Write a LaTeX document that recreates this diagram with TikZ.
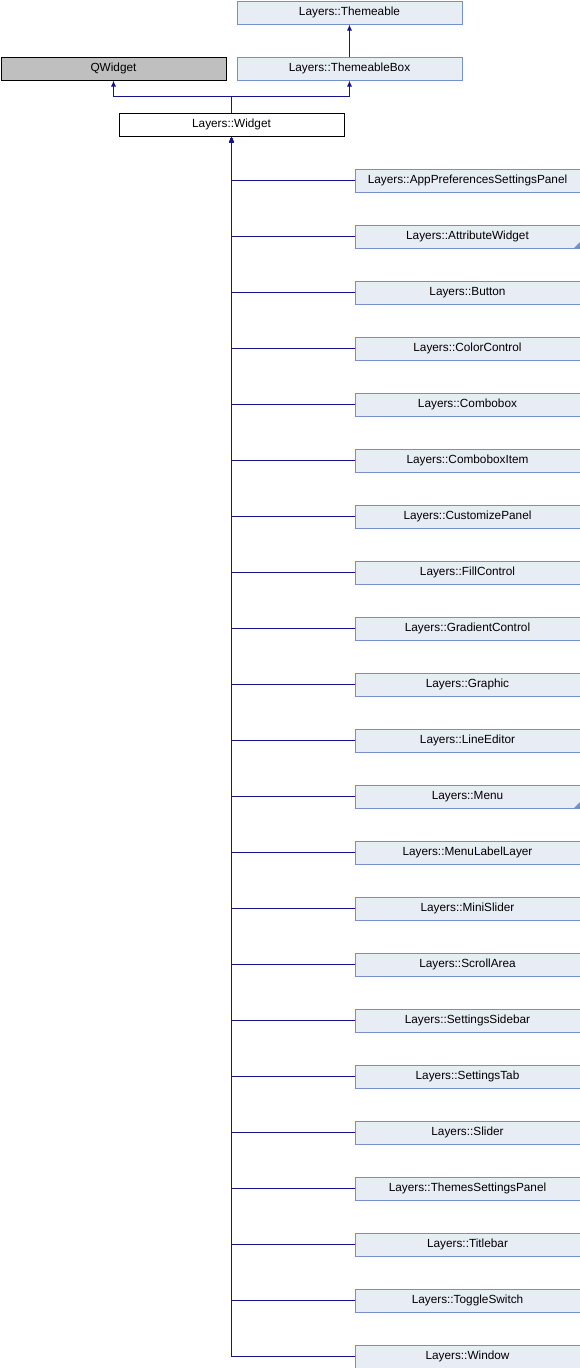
\documentclass[tikz,border=0pt]{standalone}
\usepackage{fontspec}
\setmainfont{Liberation Sans}
\usetikzlibrary{arrows.meta}
\definecolor{boxfill}{RGB}{232,236,245}
\definecolor{boxline}{RGB}{118,144,200}
\definecolor{edgecol}{RGB}{20,20,140}
\definecolor{qfill}{RGB}{191,191,191}
\tikzset{
  cls/.style={draw=boxline, fill=boxfill, line width=1pt, minimum width=225pt, minimum height=23pt, inner sep=0pt, anchor=north west, font=\fontsize{11.8}{13}\selectfont},
  ext/.style={cls, draw=black, fill=qfill},
  cur/.style={cls, draw=black, fill=white},
  edge/.style={draw=edgecol, line width=1pt, -{Latex[length=6pt,width=5pt]}},
  tri/.style={fill=boxline, draw=none}
}
\begin{document}
\begin{tikzpicture}[x=1pt,y=-1pt]
\useasboundingbox (0,0) rectangle (580,1368);
\node[cls] (tm) at (236.5,0.5) {Layers::Themeable};
\node[cls] (tb) at (236.5,56.5) {Layers::ThemeableBox};
\node[ext] (qw) at (0.5,56.5) {QWidget};
\node[cur] (w) at (118.5,112.5) {Layers::Widget};
\draw[edge] (tb.north) -- (tm.south);
\coordinate (bus) at (w.north |- 0,96);
\draw[edge] (w.north) -- (bus) -| (qw.south);
\draw[edge] (w.north) -- (bus) -| (tb.south);
\foreach \name [count=\i from 0] in {AppPreferencesSettingsPanel,AttributeWidget,Button,ColorControl,Combobox,ComboboxItem,CustomizePanel,FillControl,GradientControl,Graphic,LineEditor,Menu,MenuLabelLayer,MiniSlider,ScrollArea,SettingsSidebar,SettingsTab,Slider,ThemesSettingsPanel,Titlebar,ToggleSwitch,Window}{
  \node[cls] (c\i) at (354.5,168.5+56*\i) {Layers::\name};
  \draw[edge] (c\i.west) -| (w.south);
}
\fill[tri] (c1.south east) -- ++(0,-7) -- ++(-7,7) -- cycle;
\fill[tri] (c11.south east) -- ++(0,-7) -- ++(-7,7) -- cycle;
\end{tikzpicture}
\end{document}
